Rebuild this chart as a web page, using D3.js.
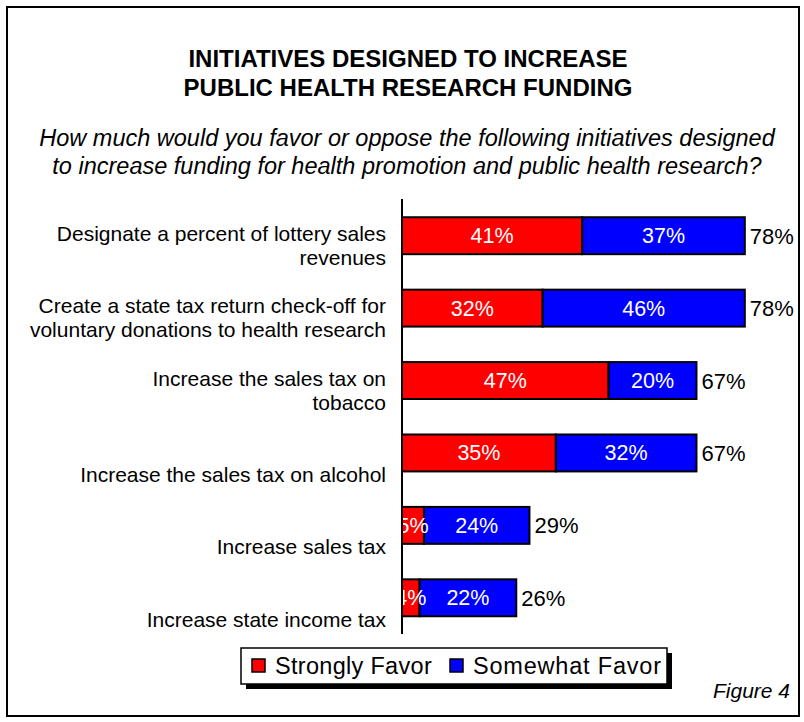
<!DOCTYPE html>
<html>
<head>
<meta charset="utf-8">
<script src="https://cdn.jsdelivr.net/npm/d3@7"></script>
<style>
  html, body { margin: 0; padding: 0; background: #fff; }
  svg { display: block; font-family: "Liberation Sans", Arial, sans-serif; }
</style>
</head>
<body>
<svg id="chart" width="804" height="722"></svg>
<script>
// Survey categories (each entry is the list of wrapped label lines)
const categories = [
  ["Designate a percent of lottery sales", "revenues"],
  ["Create a state tax return check-off for", "voluntary donations to health research"],
  ["Increase the sales tax on", "tobacco"],
  ["Increase the sales tax on alcohol"],
  ["Increase sales tax"],
  ["Increase state income tax"]
];
const strongly = [41, 32, 47, 35, 5, 4];
const somewhat = [37, 46, 20, 32, 24, 22];
const totals   = [78, 78, 67, 67, 29, 26];
const seriesNames = ["Strongly Favor", "Somewhat Favor"];
const seriesColors = ["#ff0000", "#0000ff"];

const titleLines = ["INITIATIVES DESIGNED TO INCREASE", "PUBLIC HEALTH RESEARCH FUNDING"];
const subtitleLines = [
  "How much would you favor or oppose the following initiatives designed",
  "to increase funding for health promotion and public health research?"
];
const figureNote = "Figure 4";

const svg = d3.select("#chart");

// outer frame
svg.append("rect")
  .attr("x", 7).attr("y", 7).attr("width", 792).attr("height", 709)
  .attr("fill", "#fff").attr("stroke", "#000").attr("stroke-width", 2);

// title
svg.append("g").selectAll("text").data(titleLines).join("text")
  .attr("x", 408).attr("y", (d, i) => 66.5 + i * 29)
  .attr("text-anchor", "middle")
  .attr("font-size", 24).attr("font-weight", "bold")
  .text(d => d);

// subtitle
svg.append("g").selectAll("text").data(subtitleLines).join("text")
  .attr("x", 407).attr("y", (d, i) => 145.5 + i * 28)
  .attr("text-anchor", "middle")
  .attr("font-size", 23.5).attr("font-style", "italic")
  .text(d => d);

// scales
const x = d3.scaleLinear().domain([0, 100]).range([402, 841.5]);
const idx = d3.range(categories.length);
const y = d3.scaleBand().domain(idx).range([199.5, 634])
  .paddingInner(0.49).paddingOuter(0.245);

const stackData = idx.map(i => ({ i, a: strongly[i], b: somewhat[i] }));
const stack = d3.stack().keys(["a", "b"])(stackData);

const gBars = svg.append("g");
stack.forEach((layer, k) => {
  gBars.append("g").selectAll("rect").data(layer).join("rect")
    .attr("x", d => x(d[0]))
    .attr("y", d => y(d.data.i))
    .attr("width", d => x(d[1]) - x(d[0]))
    .attr("height", y.bandwidth())
    .attr("fill", seriesColors[k])
    .attr("stroke", "#000").attr("stroke-width", 2);
});

// segment value labels
stack.forEach((layer, k) => {
  gBars.append("g").selectAll("text").data(layer).join("text")
    .attr("x", d => (x(d[0]) + x(d[1])) / 2)
    .attr("y", d => y(d.data.i) + y.bandwidth() / 2 + 7.5)
    .attr("text-anchor", "middle")
    .attr("font-size", 21.5).attr("fill", "#fff")
    .text(d => (d[1] - d[0]) + "%");
});

// total labels
gBars.append("g").selectAll("text").data(idx).join("text")
  .attr("x", i => x(totals[i]) + 5)
  .attr("y", i => y(i) + y.bandwidth() / 2 + 8)
  .attr("font-size", 22).attr("fill", "#000")
  .text(i => totals[i] + "%");

// category axis line
svg.append("line")
  .attr("x1", x(0)).attr("x2", x(0))
  .attr("y1", 199).attr("y2", 634)
  .attr("stroke", "#000").attr("stroke-width", 2);

// category labels, bottom line anchored below bar centre
const gLab = svg.append("g");
idx.forEach(i => {
  const lines = categories[i];
  const c = y(i) + y.bandwidth() / 2;
  const lastBase = c + 29;
  lines.forEach((ln, j) => {
    gLab.append("text")
      .attr("x", 386)
      .attr("y", lastBase - (lines.length - 1 - j) * 24)
      .attr("text-anchor", "end")
      .attr("font-size", 21)
      .text(ln);
  });
});

// legend with drop shadow
const lg = svg.append("g");
lg.append("rect").attr("x", 246).attr("y", 653).attr("width", 426).attr("height", 36).attr("fill", "#000");
lg.append("rect").attr("x", 241).attr("y", 648).attr("width", 426).attr("height", 36)
  .attr("fill", "#fff").attr("stroke", "#000").attr("stroke-width", 1.5);
const legendX = [252, 450];
const legendSpacing = [0.3, 0.8];
seriesNames.forEach((name, k) => {
  lg.append("rect").attr("x", legendX[k]).attr("y", 659).attr("width", 13).attr("height", 13)
    .attr("fill", seriesColors[k]).attr("stroke", "#000").attr("stroke-width", 1.5);
  lg.append("text").attr("x", legendX[k] + 23).attr("y", 674)
    .attr("font-size", 23.5).attr("letter-spacing", legendSpacing[k]).text(name);
});

// figure note
svg.append("text").attr("x", 790).attr("y", 698)
  .attr("text-anchor", "end").attr("font-size", 21).attr("font-style", "italic")
  .text(figureNote);
</script>
</body>
</html>
